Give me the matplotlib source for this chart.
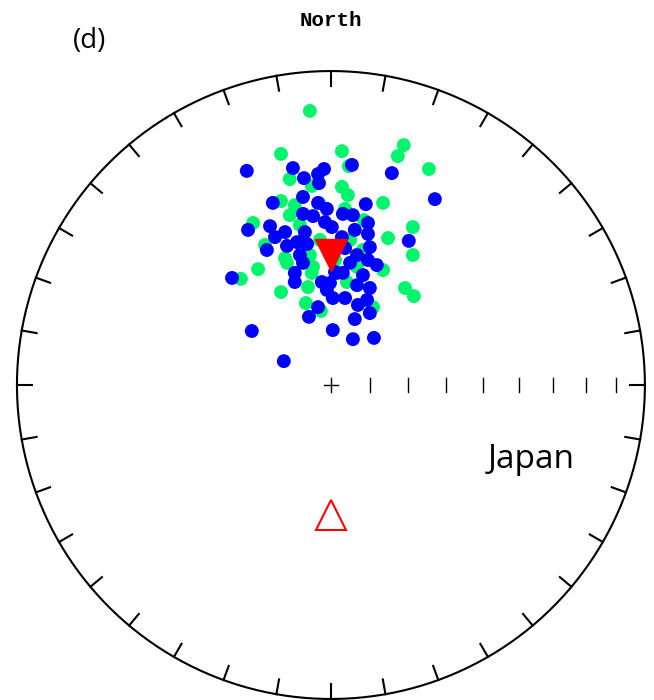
import numpy as np
import matplotlib
matplotlib.use("Agg")
import matplotlib.pyplot as plt

# equal-area net coordinates (net radius = 1)
green_x = [-0.067, -0.159, 0.035, 0.232, 0.213, 0.312, 0.057, -0.131, -0.061, 0.035,
           0.054, -0.159, 0.166, 0.261, 0.182, -0.248, -0.210, -0.115, -0.038, 0.045,
           0.105, -0.140, -0.232, -0.287, -0.159, -0.080, -0.073, -0.032, 0.051, 0.166,
           0.236, 0.264, 0.261, 0.134, -0.057, 0.083, -0.146, -0.061, 0.102, -0.099,
           -0.035, -0.131, 0.013, -0.067, 0.061]
green_y = [0.873, 0.736, 0.745, 0.764, 0.729, 0.688, 0.697, 0.656, 0.634, 0.631,
           0.605, 0.586, 0.580, 0.503, 0.468, 0.516, 0.446, 0.573, 0.580, 0.561,
           0.525, 0.389, 0.369, 0.338, 0.296, 0.261, 0.312, 0.236, 0.328, 0.366,
           0.309, 0.283, 0.414, 0.248, 0.376, 0.376, 0.404, 0.357, 0.430, 0.510,
           0.462, 0.541, 0.398, 0.414, 0.462]

blue_x = [-0.268, -0.121, -0.086, -0.041, -0.022, -0.038, 0.067, 0.194, 0.331, -0.089,
          -0.185, 0.111, -0.264, -0.194, -0.146, -0.178, -0.089, -0.057, -0.013, -0.019,
          0.003, 0.038, 0.070, 0.118, 0.076, 0.118, 0.248, 0.035, -0.108, -0.076,
          -0.140, -0.204, 0.124, -0.099, -0.089, -0.115, -0.115, -0.315, 0.083, 0.061,
          0.118, 0.146, 0.102, 0.083, 0.124, 0.115, 0.086, 0.124, 0.076, 0.045,
          0.006, -0.013, -0.029, -0.003, 0.019, 0.038, -0.041, -0.070, 0.006, 0.070,
          0.137, -0.252, -0.150, -0.041, -0.083, 0.045, 0.013]
blue_y = [0.682, 0.691, 0.659, 0.672, 0.688, 0.643, 0.701, 0.675, 0.592, 0.599,
          0.580, 0.576, 0.494, 0.506, 0.487, 0.471, 0.545, 0.538, 0.561, 0.519,
          0.503, 0.545, 0.541, 0.516, 0.494, 0.481, 0.459, 0.471, 0.455, 0.449,
          0.443, 0.430, 0.439, 0.414, 0.389, 0.357, 0.328, 0.341, 0.414, 0.389,
          0.398, 0.382, 0.350, 0.318, 0.309, 0.271, 0.255, 0.229, 0.210, 0.277,
          0.277, 0.303, 0.328, 0.325, 0.357, 0.357, 0.248, 0.217, 0.175, 0.146,
          0.150, 0.172, 0.076, 0.580, 0.487, 0.436, 0.360]

# mean direction (lower hemisphere) and its antipode (upper hemisphere)
mean_x, mean_y = 0.0, 0.414
anti_x, anti_y = 0.0, -0.414

inc_ticks = [80, 70, 60, 50, 40, 30, 20, 10]


def ea_radius(inc):
    return np.sqrt(2) * np.sin(np.radians(90 - inc) / 2)


fig = plt.figure(figsize=(6.54, 7.0), dpi=100)
ax = fig.add_axes([0, 0, 1, 1])
ax.set_xlim(-1.054, 1.029)
ax.set_ylim(-1.003, 1.226)
ax.set_aspect("equal")
ax.axis("off")

# primitive circle
t = np.linspace(0, 2 * np.pi, 400)
ax.plot(np.cos(t), np.sin(t), color="black", lw=1.5, clip_on=False)

# 10 degree ticks round the rim
for az in range(0, 360, 10):
    a = np.radians(az)
    ax.plot([np.sin(a), 0.952 * np.sin(a)], [np.cos(a), 0.952 * np.cos(a)],
            color="black", lw=1.5, clip_on=False)

# inclination ticks along the east radius
h = 7 / 314
for inc in inc_ticks:
    r = ea_radius(inc)
    ax.plot([r, r], [-h, h], color="black", lw=1.0)
ax.plot([-h, h], [0, 0], color="black", lw=1.0)
ax.plot([0, 0], [-h, h], color="black", lw=1.0)

ax.scatter(green_x, green_y, s=100, color="#00f46c", edgecolors="none", zorder=3)
ax.scatter(blue_x, blue_y, s=100, color="#0000ff", edgecolors="none", zorder=4)
ax.plot(mean_x, mean_y, marker="v", ms=23, color="red", ls="none", zorder=5)
ax.plot(anti_x, anti_y, marker="^", ms=21, mfc="none", mec="red", mew=1.5,
        ls="none", zorder=5)

ax.text(0, 1.162, "North", ha="center", va="center", fontsize=15,
        family="Liberation Mono", weight="bold")
ax.text(-0.768, 1.096, "(d)", ha="center", va="center", fontsize=20,
        family="Open Sans")
ax.text(0.637, -0.236, "Japan", ha="center", va="center", fontsize=24,
        family="Open Sans")

fig.savefig("out.png", dpi=100)
